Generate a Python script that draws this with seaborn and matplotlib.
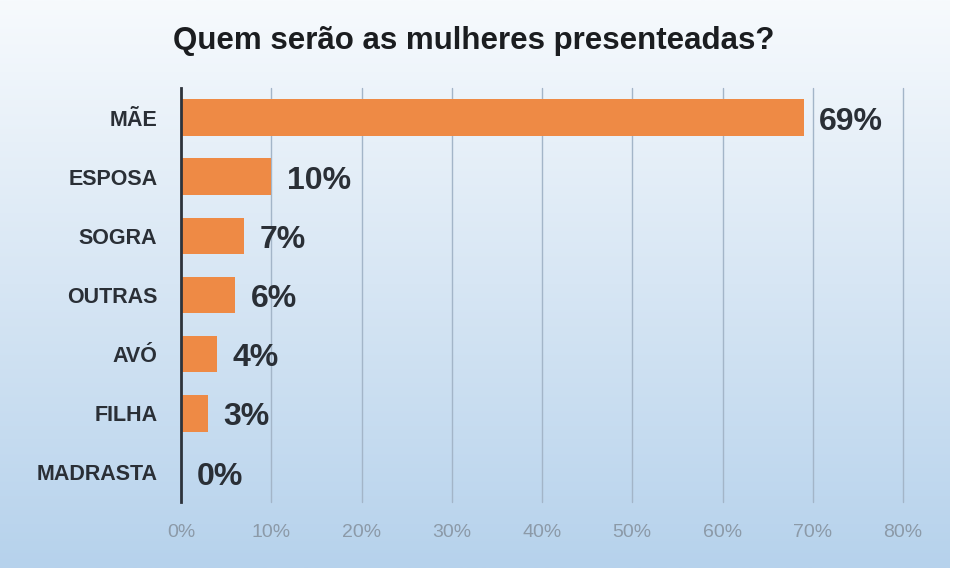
import matplotlib
matplotlib.use("Agg")
import matplotlib.pyplot as plt
import seaborn as sns
import numpy as np
import pandas as pd
from matplotlib.colors import LinearSegmentedColormap

categories = ["MÃE", "ESPOSA", "SOGRA", "OUTRAS", "AVÓ", "FILHA", "MADRASTA"]
values = [69, 10, 7, 6, 4, 3, 0]
xticks = [0, 10, 20, 30, 40, 50, 60, 70, 80]
xtick_labels = [f"{t}%" for t in xticks]
title = "Quem serão as mulheres presenteadas?"

sns.set_theme(style="white")
plt.rcParams["font.family"] = ["Liberation Sans", "DejaVu Sans"]

W, H = 960, 579
fig = plt.figure(figsize=(W / 100, H / 100), dpi=100)
fig.patch.set_facecolor("white")

# gradient background
bg = fig.add_axes([0, 1 - 568 / H, 950 / W, 568 / H], zorder=-10)
cmap = LinearSegmentedColormap.from_list("bg", ["#f7fafd", "#d7e6f4", "#b6d2ec"])
grad = np.linspace(0, 1, 256).reshape(-1, 1)
bg.imshow(grad, aspect="auto", cmap=cmap, extent=[0, 1, 0, 1], origin="upper")
bg.axis("off")

ax = fig.add_axes([181 / W, 1 - 502 / H, (903 - 181) / W, (502 - 88) / H])
ax.patch.set_alpha(0)

df = pd.DataFrame({"cat": categories, "val": values})
sns.barplot(data=df, x="val", y="cat", orient="h", color="#ee8a45",
            width=0.62, ax=ax, saturation=1, zorder=3, linewidth=0)

ax.set_xlim(0, 80)
ax.set_ylim(6.5, -0.5)
ax.set_xticks(xticks)
ax.set_xticklabels(xtick_labels, color="#8c9aa8", fontsize=14)
ax.set_xlabel("")
ax.set_ylabel("")
ax.tick_params(axis="x", length=0, pad=16)
ax.tick_params(axis="y", length=0, pad=17)
for lbl in ax.get_yticklabels():
    lbl.set_fontweight("bold")
    lbl.set_fontsize(15.5)
    lbl.set_color("#2a2f36")

for t in xticks[1:]:
    ax.axvline(t, color="#a3b5c8", linewidth=1.0, zorder=1, clip_on=False)

for s in ["top", "right", "bottom"]:
    ax.spines[s].set_visible(False)
ax.spines["left"].set_color("#2d333b")
ax.spines["left"].set_linewidth(2)
ax.spines["left"].set_zorder(4)

for i, v in enumerate(values):
    ax.annotate(f"{v}%", xy=(v, i), xytext=(11, -3), textcoords="offset points",
                ha="left", va="center", fontsize=23, fontweight="bold",
                color="#2a2f36")

fig.text(474 / W, 1 - 41 / H, title, ha="center", va="center",
         fontsize=22.5, fontweight="bold", color="#1b1d20")

fig.savefig("out.png", dpi=100)
